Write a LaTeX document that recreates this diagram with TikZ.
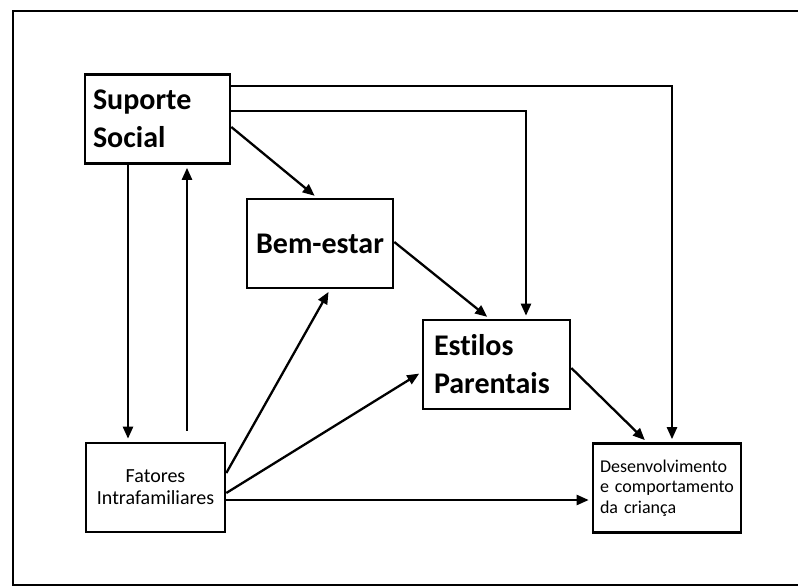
\documentclass[tikz,border=0pt]{standalone}
\usepackage{fontspec}
\setmainfont{Carlito}[Ligatures=NoCommon]
\usetikzlibrary{arrows.meta}

\begin{document}
\begin{tikzpicture}[x=1pt,y=-1pt,
  box/.style={draw,line width=2.6pt,minimum height=89pt,inner ysep=0pt},
  bigtext/.style={font=\fontsize{30}{38}\selectfont\bfseries},
  arr/.style={line width=2.3pt,-{Triangle[length=12pt,width=10pt]},shorten >=3pt}]
\useasboundingbox (0,0) rectangle (798,588);
\draw[line width=2.6pt] (798,11) -- (13,11) -- (13,585) -- (798,585);

% boxes
\node[box,bigtext,align=left,text width=129pt,inner xsep=8pt] (sup) at (157.5,119) {Suporte\\Social};
\node[box,bigtext,align=center,minimum width=146pt] (bem) at (320,243.5) {Bem-estar};
\node[box,bigtext,align=left,text width=125pt,inner xsep=11pt] (est) at (496.5,364.5) {Estilos\\Parentais};
\node[box,font=\fontsize{20}{22}\selectfont,align=center,minimum width=139pt] (fat) at (155.5,487.5) {Fatores\\Intrafamiliares};
\node[box,font=\fontsize{18}{20.5}\selectfont,align=left,text width=134pt,inner xsep=7pt] (des) at (667,488) {Desenvolvimento\\e comportamento\\da criança\\[6pt]};

% arrows
\draw[arr] ([yshift=-13pt]sup.north east) -| ([xshift=5pt]des.north);
\draw[arr] ([yshift=-38pt]sup.north east) -| ([xshift=29.5pt]est.north);
\draw[arr] ([yshift=-8pt]sup.east) -- ([xshift=-3pt]bem.north);
\draw[arr] ([xshift=-29.5pt]sup.south) -- ([xshift=-29.5pt]sup.south |- fat.north);
\draw[arr,shorten <=11pt] ([xshift=29.5pt]sup.south |- fat.north) -- ([xshift=29.5pt]sup.south);
\draw[arr] ([yshift=14.5pt]fat.east) -- ([xshift=10pt]bem.south);
\draw[arr] ([yshift=-5.5pt]fat.east) -- ([yshift=-7.5pt]est.west);
\draw[arr] ([yshift=-12.5pt]fat.east) -- ([yshift=-12.5pt]fat.east -| des.west);
\draw[arr] ([yshift=1.5pt]bem.east) -- ([xshift=-7pt]est.north);
\draw[arr] ([yshift=-3.5pt]est.east) -- ([xshift=-20pt]des.north);
\end{tikzpicture}
\end{document}
